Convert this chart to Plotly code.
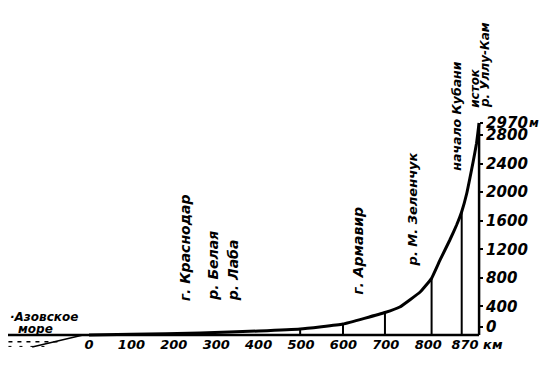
import plotly.graph_objects as go

# ---- data ----
# longitudinal profile of the Kuban river: distance from the mouth (km) and elevation (m)
profile_km = [0, 100, 262, 400, 498, 599, 698, 733, 781, 808, 828, 851, 867, 879, 891, 899, 906, 914, 920]
profile_m = [0, 10, 28, 56, 84, 154, 315, 392, 602, 794, 1051, 1331, 1541, 1728, 1986, 2218, 2428, 2686, 2970]

# vertical drop lines under the profile
marker_km = [498, 599, 698, 808, 879]
marker_m = [84, 154, 315, 794, 1728]

# axes
x_tickvals = [0, 100, 200, 300, 400, 500, 600, 700, 800, 915]
x_ticktext = ["0", "100", "200", "300", "400", "500", "600", "700", "800", "870 км"]
y_tickvals = [112, 400, 800, 1200, 1600, 2000, 2400, 2800, 2970]
y_ticktext = ["0", "400", "800", "1200", "1600", "2000", "2400", "2800", "2970"]
y_unit = "м"

# place labels (rotated): text, distance km, elevation of the lower end of the text
place_names = ["г. Краснодар", "р. Белая", "р. Лаба", "г. Армавир", "р. М. Зеленчук",
               "начало Кубани", "исток", "р. Уллу-Кам"]
place_km = [226, 292, 340, 634, 764, 866, 910, 934]
place_base_m = [448, 448, 448, 532, 939, 2270, 3152, 3152]
# lettering size of each label (style, kept apart from the data)
place_font_size = [14, 14, 14, 14, 13, 12.5, 12, 12]

SOURCE_KM = 920
TOP_M = 2970

FONT = "DejaVu Sans"
# the page body has an 8px margin, so the figure is 8px smaller than the window
W, H = 539, 363
PX_PER_KM = 0.424
PX_PER_M = 0.07138
X0_PX = 81      # where 0 km sits inside the figure
Y0_PX = 327     # where 0 m sits inside the figure

fig = go.Figure()

# profile curve
fig.add_trace(go.Scatter(
    x=profile_km, y=profile_m, mode="lines",
    line=dict(color="black", width=3, shape="spline", smoothing=0.3),
    hoverinfo="skip", showlegend=False))

# drop lines
dx, dy = [], []
for k, m in zip(marker_km, marker_m):
    dx += [k, k, None]
    dy += [0, m, None]
fig.add_trace(go.Scatter(x=dx, y=dy, mode="lines",
                         line=dict(color="black", width=2),
                         hoverinfo="skip", showlegend=False))

shapes = [
    # baseline (sea level) from the sea to the source
    dict(type="line", x0=-198, x1=SOURCE_KM, y0=0, y1=0, line=dict(color="black", width=2.5)),
    # right elevation axis
    dict(type="line", x0=SOURCE_KM, x1=SOURCE_KM, y0=0, y1=TOP_M, line=dict(color="black", width=2.5)),
    # sea hatching
    dict(type="line", x0=-190, x1=-70, y0=-95, y1=-95, line=dict(color="black", width=1.5, dash="4px,5px")),
    dict(type="line", x0=-190, x1=-100, y0=-160, y1=-160, line=dict(color="black", width=1, dash="3px,8px")),
    dict(type="line", x0=-134, x1=-14, y0=-168, y1=0, line=dict(color="black", width=1.5)),
]

annotations = []
for name, k, m, fs in zip(place_names, place_km, place_base_m, place_font_size):
    annotations.append(dict(
        x=k, y=m, xref="x", yref="y", text=name, textangle=-90, showarrow=False,
        xanchor="center", yanchor="bottom",
        font=dict(family=FONT, size=fs, color="black", style="italic", weight="bold")))

annotations.append(dict(x=-191, y=252, xref="x", yref="y", text="·Азовское", showarrow=False,
                        xanchor="left", yanchor="middle",
                        font=dict(family=FONT, size=12, color="black", style="italic", weight="bold")))
annotations.append(dict(x=-127, y=90, xref="x", yref="y", text="море", showarrow=False,
                        xanchor="center", yanchor="middle",
                        font=dict(family=FONT, size=12, color="black", style="italic", weight="bold")))
# unit of the elevation axis, right after the top label
annotations.append(dict(x=1034, y=TOP_M, xref="x", yref="y", text=y_unit, showarrow=False,
                        xanchor="left", yanchor="middle",
                        font=dict(family=FONT, size=12, color="black", style="italic", weight="bold")))

fig.update_layout(
    width=W, height=H,
    margin=dict(l=0, r=0, t=0, b=0),
    paper_bgcolor="white", plot_bgcolor="white",
    shapes=shapes, annotations=annotations,
    xaxis=dict(range=[-X0_PX / PX_PER_KM, (W - X0_PX) / PX_PER_KM],
               anchor="free", position=1 - Y0_PX / H,
               showline=False, showgrid=False, zeroline=False, ticks="",
               tickvals=x_tickvals, ticktext=x_ticktext,
               tickfont=dict(family=FONT, size=13, color="black", style="italic", weight="bold")),
    yaxis=dict(range=[(Y0_PX - H) / PX_PER_M, Y0_PX / PX_PER_M],
               anchor="free", position=(X0_PX + SOURCE_KM * PX_PER_KM) / W, side="right",
               showline=False, showgrid=False, zeroline=False,
               ticks="outside", ticklen=3, tickwidth=1.5, tickcolor="black",
               tickvals=y_tickvals, ticktext=y_ticktext,
               tickfont=dict(family=FONT, size=15, color="black", style="italic", weight="bold")),
)

fig.write_html("out.html")
